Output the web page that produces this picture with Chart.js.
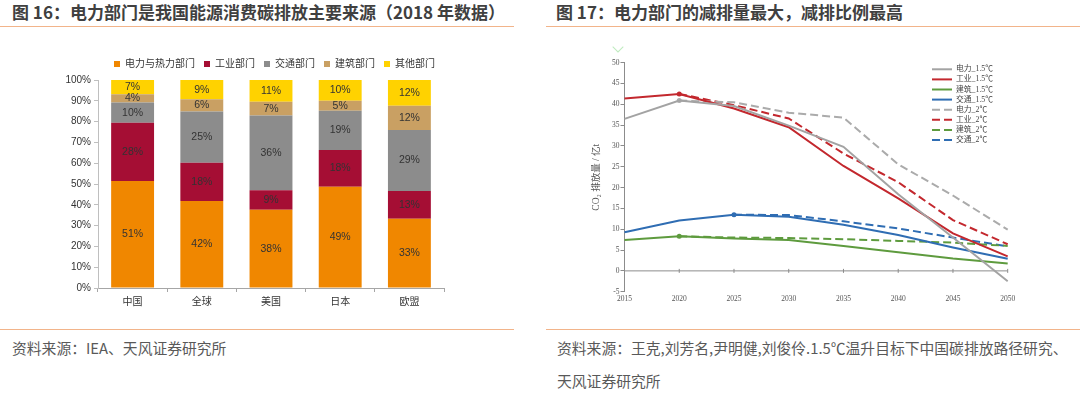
<!DOCTYPE html>
<html lang="zh-CN">
<head>
<meta charset="utf-8">
<title>电力部门碳排放</title>
<script src="https://cdn.jsdelivr.net/npm/chart.js@4.4.1/dist/chart.umd.min.js"></script>
<style>
  html, body { margin: 0; padding: 0; background: #fff; }
  body { width: 1080px; height: 394px; position: relative; overflow: hidden; font-family: "Noto Sans CJK SC", "Noto Sans", sans-serif; }
  .title { position: absolute; top: 2px; font-size: 17px; font-weight: bold; color: #404040; line-height: 20px; white-space: nowrap; }
  .rule { position: absolute; height: 0; border-top: 1.5px solid #F2B48A; }
  .source { position: absolute; font-size: 14.8px; color: #595959; line-height: 18px; white-space: nowrap; }
  .box { position: absolute; }
  .tick-mark { position: absolute; left: 614px; top: 43px; width: 7px; height: 7px; border-right: 1.5px solid #BFEBBF; border-bottom: 1.5px solid #BFEBBF; transform: rotate(45deg); }
</style>
</head>
<body>
  <div class="title" style="left:12px;">图 16：电力部门是我国能源消费碳排放主要来源（2018 年数据）</div>
  <div class="title" style="left:556px;">图 17：电力部门的减排量最大，减排比例最高</div>
  <div class="rule" style="left:0; width:514px; top:26px;"></div>
  <div class="rule" style="left:546px; width:534px; top:26px;"></div>

  <div class="box" style="left:0; top:40px; width:514px; height:280px;">
    <canvas id="shareChart" width="514" height="280"></canvas>
  </div>
  <div class="box" style="left:546px; top:40px; width:534px; height:270px;">
    <canvas id="pathChart" width="534" height="270"></canvas>
  </div>
  <div class="tick-mark"></div>

  <div class="rule" style="left:0; width:514px; top:329px;"></div>
  <div class="rule" style="left:546px; width:534px; top:329px;"></div>
  <div class="source" style="left:12px; top:339px;">资料来源：IEA、天风证券研究所</div>
  <div class="source" style="left:557px; top:339px;">资料来源：王克,刘芳名,尹明健,刘俊伶.1.5℃温升目标下中国碳排放路径研究、</div>
  <div class="source" style="left:557px; top:372px;">天风证券研究所</div>

<script>
// ---- 图 16 data (share of emissions, %) ----
const regions = ['中国', '全球', '美国', '日本', '欧盟'];
const sectorNames = ['电力与热力部门', '工业部门', '交通部门', '建筑部门', '其他部门'];
const powerShare = [51.4, 41.8, 37.6, 48.7, 33.3];
const industryShare = [28.0, 18.4, 9.4, 17.6, 13.3];
const transportShare = [9.8, 24.6, 35.9, 18.9, 29.4];
const buildingShare = [3.9, 5.9, 6.6, 4.8, 11.6];
const otherShare = [6.9, 9.3, 10.5, 10.0, 12.4];
const sectorColors = ['#F08700', '#A50E34', '#8C8C8C', '#C9A063', '#FFD200'];

// ---- 图 17 data (CO2, 亿t) ----
const years = [2015, 2020, 2025, 2030, 2035, 2040, 2045, 2050];
const power15 = [36.5, 40.9, 39.6, 34.9, 29.8, 18.4, 8.0, -2.5];
const industry15 = [41.4, 42.5, 39.0, 34.5, 25.2, 17.4, 9.0, 3.5];
const building15 = [7.4, 8.3, 7.8, 7.4, 6.0, 4.5, 3.0, 1.8];
const transport15 = [9.3, 12.1, 13.5, 13.0, 11.1, 8.6, 5.6, 2.9];
const power2 = [null, 40.9, 40.5, 38.0, 36.8, 25.6, 18.1, 9.9];
const industry2 = [null, 42.5, 39.8, 36.6, 28.2, 21.3, 12.2, 6.4];
const building2 = [null, 8.3, 8.0, 7.9, 7.6, 7.2, 6.8, 6.0];
const transport2 = [null, null, 13.5, 13.4, 11.9, 10.2, 8.0, 5.9];
const pathLabels = ['电力_1.5℃', '工业_1.5℃', '建筑_1.5℃', '交通_1.5℃', '电力_2℃', '工业_2℃', '建筑_2℃', '交通_2℃'];

const grayLine = '#A3A3A3';
const redLine = '#C3282E';
const greenLine = '#5E9B3E';
const blueLine = '#2F6DB3';

const sansFont = '"Liberation Sans", "Noto Sans CJK SC", sans-serif';
const serifFont = '"Liberation Serif", "Noto Sans CJK SC", serif';

// percentage labels in the middle of each bar segment
const barLabels = {
    id: 'barLabels',
    afterDatasetsDraw(chart) {
        const ctx = chart.ctx;
        ctx.save();
        ctx.font = '10.5px ' + sansFont;
        ctx.fillStyle = '#333';
        ctx.textAlign = 'center';
        ctx.textBaseline = 'middle';
        chart.data.datasets.forEach((ds, i) => {
            chart.getDatasetMeta(i).data.forEach((bar, j) => {
                ctx.fillText(Math.round(ds.data[j]) + '%', bar.x, (bar.y + bar.base) / 2);
            });
        });
        ctx.restore();
    }
};

// fixed legend band height so the plot starts where it should
const legendBand = {
    id: 'legendBand',
    beforeInit(chart) {
        const fit = chart.legend.fit;
        chart.legend.fit = function () {
            fit.bind(chart.legend)();
            this.height = 30;
        };
    }
};

new Chart(document.getElementById('shareChart'), {
    type: 'bar',
    data: {
        labels: regions,
        datasets: [powerShare, industryShare, transportShare, buildingShare, otherShare].map((vals, i) => ({
            label: sectorNames[i],
            data: vals,
            backgroundColor: sectorColors[i],
            borderWidth: 0,
            categoryPercentage: 1,
            barPercentage: 0.62
        }))
    },
    options: {
        responsive: false,
        animation: false,
        layout: { padding: { left: 0, right: 70, top: 10, bottom: 0 } },
        plugins: {
            legend: {
                align: 'end',
                labels: {
                    boxWidth: 6,
                    boxHeight: 6,
                    padding: 9,
                    color: '#333',
                    font: { size: 10, family: sansFont }
                }
            },
            tooltip: { enabled: false }
        },
        scales: {
            x: {
                stacked: true,
                afterFit(scale) { scale.height = 32; },
                grid: { drawOnChartArea: false, tickLength: 4, color: '#A6A6A6' },
                border: { color: '#A6A6A6' },
                ticks: { color: '#333', padding: 4, font: { size: 10, family: sansFont } }
            },
            y: {
                stacked: true,
                min: 0,
                max: 100,
                afterFit(scale) { scale.width = 98; },
                grid: { drawOnChartArea: false, tickLength: 4, color: '#BFBFBF' },
                border: { color: '#BFBFBF' },
                ticks: {
                    stepSize: 10,
                    padding: 3,
                    color: '#333',
                    font: { size: 10, family: sansFont },
                    callback: v => v + '%'
                }
            }
        }
    },
    plugins: [legendBand, barLabels]
});

// horizontal axis line at zero with small year ticks
const zeroAxis = {
    id: 'zeroAxis',
    beforeDatasetsDraw(chart) {
        const { ctx, scales: { x, y } } = chart;
        const y0 = y.getPixelForValue(0);
        ctx.save();
        ctx.strokeStyle = '#8C8C8C';
        ctx.lineWidth = 1;
        ctx.beginPath();
        ctx.moveTo(x.left, y0);
        ctx.lineTo(x.right, y0);
        x.ticks.forEach((t, i) => {
            const px = x.getPixelForTick(i);
            ctx.moveTo(px, y0 - 2);
            ctx.lineTo(px, y0 + 2);
        });
        ctx.stroke();
        ctx.restore();
    }
};

// legend in the upper right corner of the plot
const lineLegend = {
    id: 'lineLegend',
    afterDraw(chart) {
        const ctx = chart.ctx;
        ctx.save();
        ctx.font = '7.8px ' + serifFont;
        ctx.textBaseline = 'middle';
        ctx.fillStyle = '#444';
        chart.data.datasets.forEach((ds, i) => {
            const y = 29.3 + i * 10.1;
            ctx.strokeStyle = ds.borderColor;
            ctx.lineWidth = 2;
            ctx.setLineDash(ds.borderDash || []);
            ctx.beginPath();
            ctx.moveTo(386, y);
            ctx.lineTo(406, y);
            ctx.stroke();
            ctx.fillText(ds.label, 410, y);
        });
        ctx.restore();
    }
};

// dot where each 2℃ path branches off
function startDots(vals) {
    return vals.map((v, i) => (v !== null && i > 0 && vals[i - 1] === null) ? 2.5 : 0);
}

function pathSet(label, vals, color, dashed) {
    return {
        label: label,
        data: vals,
        borderColor: color,
        backgroundColor: color,
        borderWidth: 2,
        borderDash: dashed ? [8, 4] : [],
        pointRadius: dashed ? startDots(vals) : 0,
        pointBorderWidth: 0,
        tension: 0,
        spanGaps: false
    };
}

new Chart(document.getElementById('pathChart'), {
    type: 'line',
    data: {
        labels: years,
        datasets: [
            pathSet(pathLabels[0], power15, grayLine, false),
            pathSet(pathLabels[1], industry15, redLine, false),
            pathSet(pathLabels[2], building15, greenLine, false),
            pathSet(pathLabels[3], transport15, blueLine, false),
            pathSet(pathLabels[4], power2, '#ABABAB', true),
            pathSet(pathLabels[5], industry2, redLine, true),
            pathSet(pathLabels[6], building2, greenLine, true),
            pathSet(pathLabels[7], transport2, blueLine, true)
        ]
    },
    options: {
        responsive: false,
        animation: false,
        layout: { padding: { left: 40, right: 72.3, top: 22.7, bottom: 0 } },
        plugins: {
            legend: { display: false },
            tooltip: { enabled: false }
        },
        scales: {
            x: {
                offset: false,
                afterFit(scale) { scale.height = 18.3; },
                grid: { display: false, drawTicks: false },
                border: { display: false },
                ticks: { color: '#555', padding: 3, maxRotation: 0, font: { size: 7.5, family: serifFont } }
            },
            y: {
                min: -5,
                max: 50,
                afterFit(scale) { scale.width = 38.5; },
                grid: { drawOnChartArea: false, tickLength: 4, color: '#8C8C8C' },
                border: { color: '#8C8C8C' },
                ticks: { stepSize: 5, padding: 1, color: '#555', font: { size: 7.5, family: serifFont } },
                title: {
                    display: true,
                    text: 'CO₂ 排放量 / 亿t',
                    color: '#555',
                    padding: { top: 5, bottom: 0 },
                    font: { size: 9.5, family: serifFont }
                }
            }
        }
    },
    plugins: [zeroAxis, lineLegend]
});
</script>
</body>
</html>
